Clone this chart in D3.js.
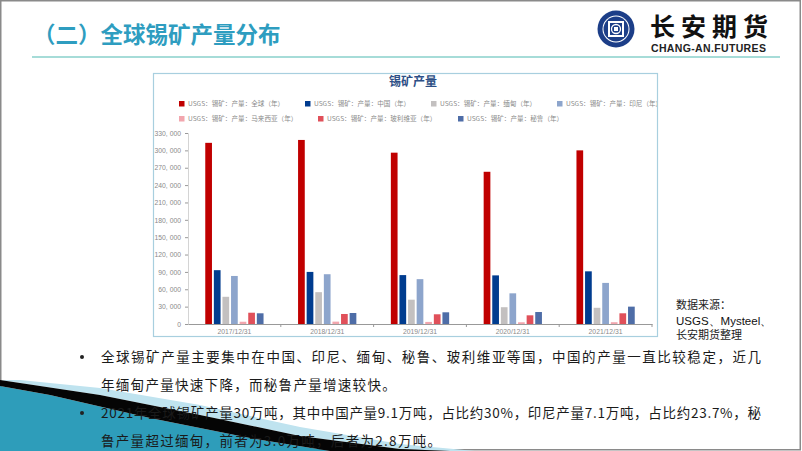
<!DOCTYPE html>
<html><head><meta charset="utf-8">
<script src="https://cdn.jsdelivr.net/npm/d3@7/dist/d3.min.js"></script>
<style>html,body{margin:0;padding:0;background:#fff;}svg{display:block;}</style>
</head><body>
<script>
const categories = ["2017/12/31","2018/12/31","2019/12/31","2020/12/31","2021/12/31"];
const seriesNames = ["USGS：锡矿：产量：全球（年）","USGS：锡矿：产量：中国（年）","USGS：锡矿：产量：缅甸（年）","USGS：锡矿：产量：印尼（年）","USGS：锡矿：产量：马来西亚（年）","USGS：锡矿：产量：玻利维亚（年）","USGS：锡矿：产量：秘鲁（年）"];
const globalVals    = [313000, 318000, 296000, 263000, 300000];
const chinaVals     = [93000, 90000, 84500, 84000, 91000];
const myanmarVals   = [47000, 55000, 42000, 29000, 28000];
const indonesiaVals = [83000, 86000, 77500, 53000, 71000];
const malaysiaVals  = [3900, 4100, 3600, 3000, 3100];
const boliviaVals   = [19500, 17300, 16800, 15000, 18500];
const peruVals      = [18500, 19000, 20200, 20700, 30000];
const yTicks = [0,30000,60000,90000,120000,150000,180000,210000,240000,270000,300000,330000];
const colors = ["#C00000","#003C8F","#C3C0C0","#8DA5CC","#F2A6AE","#E0505A","#4E6DA7"];

const series = [globalVals, chinaVals, myanmarVals, indonesiaVals, malaysiaVals, boliviaVals, peruVals];

const W = 802, H = 451;
const svg = d3.select("body").append("svg").attr("width", W).attr("height", H);
const cjk = "'Noto Sans CJK SC','Noto Sans',sans-serif";

// slide frame
svg.append("rect").attr("x",0.75).attr("y",0.75).attr("width",W-2.5).attr("height",H-2).attr("fill","#fff").attr("stroke","#8a8a8a").attr("stroke-width",1.5);

// title
svg.append("text").attr("x",33).attr("y",43).attr("font-family",cjk).attr("font-weight","bold").attr("font-size",22.5).attr("fill","#2E9DC0").text("（二）全球锡矿产量分布");
svg.append("line").attr("x1",32).attr("x2",780).attr("y1",57).attr("y2",57).attr("stroke","#A6DCD8").attr("stroke-width",2);

// logo
const lg = svg.append("g").attr("transform","translate(616,29)");
lg.append("circle").attr("r",18.5).attr("fill","#1C3E88");
lg.append("circle").attr("r",13.5).attr("fill","#fff");
lg.append("circle").attr("r",12.5).attr("fill","#1C3E88");
lg.append("rect").attr("x",-8).attr("y",-8).attr("width",16).attr("height",16).attr("fill","#fff");
lg.append("rect").attr("x",-6).attr("y",-6).attr("width",12).attr("height",12).attr("fill","#1C3E88");
lg.append("circle").attr("r",4.5).attr("fill","none").attr("stroke","#fff").attr("stroke-width",1.3);
lg.append("rect").attr("x",-2).attr("y",-2).attr("width",4).attr("height",4).attr("fill","#fff");
svg.append("text").attr("x",650).attr("y",36).attr("font-family",cjk).attr("font-weight","bold").attr("font-size",25).attr("letter-spacing",6).attr("fill","#111").text("长安期货");
svg.append("text").attr("x",651).attr("y",52).attr("font-family","'Liberation Sans',Arial,sans-serif").attr("font-weight","bold").attr("font-size",10.5).attr("letter-spacing",0.35).attr("fill","#222").text("CHANG-AN.FUTURES");

// chart panel
svg.append("rect").attr("x",153.5).attr("y",73.5).attr("width",504).attr("height",263).attr("fill","#fff").attr("stroke","#A8CFDF").attr("stroke-width",1.2);
svg.append("text").attr("x",413).attr("y",86).attr("text-anchor","middle").attr("font-family",cjk).attr("font-weight","bold").attr("font-size",12).attr("fill","#2D4F86").text("锡矿产量");

// legend
const legPos = [[179,104],[305,104],[431,104],[557,104],[179,119],[318,119],[458,119]];
const clip = svg.append("defs").append("clipPath").attr("id","pc");
clip.append("rect").attr("x",154).attr("y",74).attr("width",503).attr("height",262);
const leg = svg.append("g").attr("clip-path","url(#pc)");
seriesNames.forEach((n,i)=>{
  const [lx,ly] = legPos[i];
  leg.append("rect").attr("x",lx).attr("y",ly-3).attr("width",5.5).attr("height",5.5).attr("fill",colors[i]);
  leg.append("text").attr("x",lx+9).attr("y",ly+2.3).attr("font-family",cjk).attr("font-size",6.6).attr("fill","#8a8a8a").text(n);
});

// scales
const y = d3.scaleLinear().domain([0,330000]).range([324,133]);
const x0 = d3.scaleBand().domain(categories).range([188,652]).paddingInner(0.372).paddingOuter(0.186);
const x1 = d3.scaleBand().domain(d3.range(series.length)).range([0,x0.bandwidth()]).paddingInner(0.22);

// y axis
const yAxis = d3.axisLeft(y).tickValues(yTicks).tickSize(3).tickFormat(d=>d3.format(",")(d).replace(/,/g,", "));
const yg = svg.append("g").attr("transform","translate(188,0)").call(yAxis);
yg.select(".domain").attr("stroke","#d4d4d4");
yg.selectAll(".tick line").attr("stroke","#999");
yg.selectAll("text").attr("font-family","'Liberation Sans',Arial,sans-serif").attr("font-size",6.8).attr("fill","#8a8a8a").attr("dx",-1);

// bars
const g = svg.append("g");
categories.forEach((c,ci)=>{
  series.forEach((s,si)=>{
    g.append("rect").attr("x",x0(c)+x1(si)).attr("y",y(s[ci])).attr("width",x1.bandwidth()).attr("height",y(0)-y(s[ci])).attr("fill",colors[si]);
  });
});

// x axis
const xAxis = d3.axisBottom(x0).tickSize(0).tickPadding(5);
const xg = svg.append("g").attr("transform","translate(0,324)").call(xAxis);
xg.select(".domain").attr("stroke","#999");
xg.selectAll("text").attr("font-family","'Liberation Sans',Arial,sans-serif").attr("font-size",6.8).attr("fill","#8a8a8a");
const bounds = categories.slice(1).map(c=>x0(c)-x0.step()*x0.paddingInner()/2).concat([652]);
bounds.forEach(b=>{ svg.append("line").attr("x1",b).attr("x2",b).attr("y1",324).attr("y2",327).attr("stroke","#999"); });

// source note
svg.append("text").attr("x",676).attr("y",309).attr("font-family",cjk).attr("font-size",11).attr("fill","#222").text("数据来源：");
svg.append("text").attr("x",676).attr("y",325).attr("font-family","'Liberation Sans',Arial,sans-serif").attr("font-size",11.5).attr("fill","#111").text("USGS、Mysteel、");
svg.append("text").attr("x",676).attr("y",339).attr("font-family",cjk).attr("font-size",11).attr("fill","#222").text("长安期货整理");

// decoration bottom-left (drawn below the text)
const poly = pts => svg.append("polygon").attr("points", pts.map(p=>p.join(",")).join(" "));
poly([[0,386],[50,395],[150,418],[250,438],[330,451],[0,451]]).attr("fill","#2E9DBA");
poly([[20,380],[100,388],[200,405],[300,427],[400,444],[475,451],[450,451],[400,449],[300,436],[200,415],[100,395],[0,380]]).attr("fill","#BFE3EF");
poly([[0,380],[100,395],[200,415],[300,436],[400,449],[450,451],[330,451],[250,438],[150,418],[50,395],[0,386]]).attr("fill","#050505");

// bullets
const tf = cjk;
function line(txt, yy, full){
  const t = svg.append("text").attr("x",101).attr("y",yy).attr("font-family",tf).attr("font-size",13.5).attr("fill","#1a1a1a").text(txt);
  if(full){ t.attr("textLength",660).attr("lengthAdjust","spacing"); } else { t.attr("letter-spacing",1.3); }
}
svg.append("circle").attr("cx",82).attr("cy",357).attr("r",2).attr("fill","#222");
svg.append("circle").attr("cx",82).attr("cy",413).attr("r",2).attr("fill","#222");
line("全球锡矿产量主要集中在中国、印尼、缅甸、秘鲁、玻利维亚等国，中国的产量一直比较稳定，近几",362,true);
line("年缅甸产量快速下降，而秘鲁产量增速较快。",390,false);
line("2021年全球锡矿产量30万吨，其中中国产量9.1万吨，占比约30%，印尼产量7.1万吨，占比约23.7%，秘",418,true);
line("鲁产量超过缅甸，前者为3.0万吨，后者为2.8万吨。",446,false);
</script>
</body></html>
